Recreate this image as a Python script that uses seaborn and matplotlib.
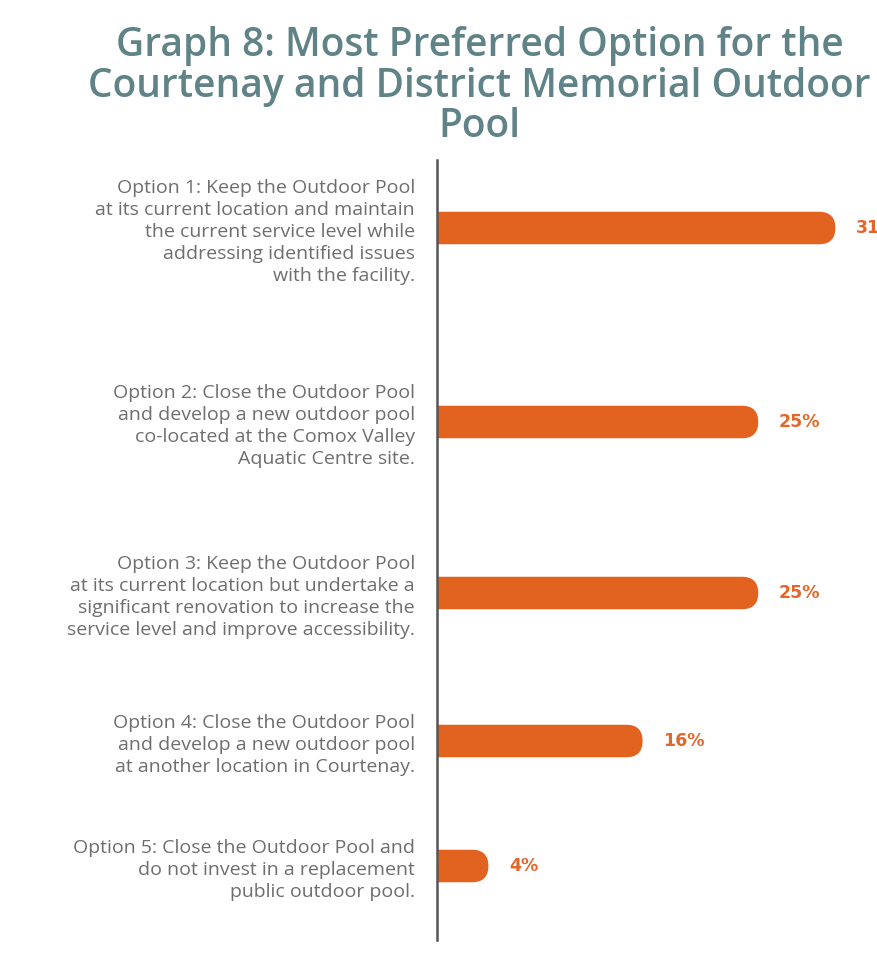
import matplotlib
matplotlib.use("Agg")
import matplotlib.pyplot as plt
from matplotlib.patches import FancyBboxPatch
import seaborn as sns
import numpy as np

# ---- data ----
labels = [
    "Option 1: Keep the Outdoor Pool\nat its current location and maintain\nthe current service level while\naddressing identified issues\nwith the facility.",
    "Option 2: Close the Outdoor Pool\nand develop a new outdoor pool\nco-located at the Comox Valley\nAquatic Centre site.",
    "Option 3: Keep the Outdoor Pool\nat its current location but undertake a\nsignificant renovation to increase the\nservice level and improve accessibility.",
    "Option 4: Close the Outdoor Pool\nand develop a new outdoor pool\nat another location in Courtenay.",
    "Option 5: Close the Outdoor Pool and\ndo not invest in a replacement\npublic outdoor pool.",
]
values = [31, 25, 25, 16, 4]
title = "Graph 8: Most Preferred Option for the\nCourtenay and District Memorial Outdoor\nPool"

ORANGE = "#E2621F"
LABEL_ORANGE = "#E4672A"
TEAL = "#5F8386"
GRAY = "#6E6E6E"

sns.set_theme(style="white")
plt.rcParams["font.family"] = ["Open Sans", "DejaVu Sans"]

# row layout derived from the number of label lines
nlines = [l.count("\n") + 1 for l in labels]
pos = [0.0]
for a, b in zip(nlines[:-1], nlines[1:]):
    pos.append(pos[-1] + (a + b) / 2 * 46 - 13)

fig = plt.figure(figsize=(8.77, 9.58), dpi=100)
fig.patch.set_facecolor("white")
ax = fig.add_axes([437 / 877, 1 - 940 / 958, 440 / 877, 780 / 958])

sns.barplot(x=values, y=pos, orient="y", native_scale=True, color=ORANGE,
            saturation=1, width=0.26, ax=ax, errorbar=None)
ax.set_xlim(0, 440 / 12.85)
ax.set_ylim(780 - 68, -68)

# rounded right ends
fig.canvas.draw()
px_x = abs(ax.transData.transform((1, 0))[0] - ax.transData.transform((0, 0))[0])
px_y = abs(ax.transData.transform((0, 1))[1] - ax.transData.transform((0, 0))[1])
for p in list(ax.patches):
    x0, y0, w, h = p.get_x(), p.get_y(), p.get_width(), p.get_height()
    ry = abs(h) / 2
    rx = ry * px_y / px_x
    fb = FancyBboxPatch((x0 - 2 * rx, min(y0, y0 + h)), w + 2 * rx, abs(h),
                        boxstyle=f"round,pad=0,rounding_size={rx}",
                        mutation_aspect=ry / rx, facecolor=ORANGE,
                        edgecolor="none")
    p.remove()
    ax.add_patch(fb)

for v, y, lab in zip(values, pos, labels):
    ax.annotate(f"{v}%", (v, y), xytext=(15, 0), textcoords="offset points",
                ha="left", va="center", color=LABEL_ORANGE, fontsize=12.5,
                fontweight="bold", family=["DejaVu Sans"],
                annotation_clip=False)
    ax.annotate(lab, (0, y + 4), xytext=(-16, 0), textcoords="offset points",
                ha="right", va="center", color=GRAY, fontsize=14,
                linespacing=1.3, annotation_clip=False)

for s in ["top", "right", "bottom"]:
    ax.spines[s].set_visible(False)
ax.spines["left"].set_color("#555555")
ax.spines["left"].set_linewidth(1.8)
ax.set_xticks([])
ax.set_yticks([])
ax.set_xlabel("")
ax.set_ylabel("")

fig.text(0.547, 1 - 26 / 958, title, ha="center", va="top", fontsize=28,
         color=TEAL, fontweight="semibold", linespacing=1.02)

fig.savefig("out.png", dpi=100, facecolor="white")
